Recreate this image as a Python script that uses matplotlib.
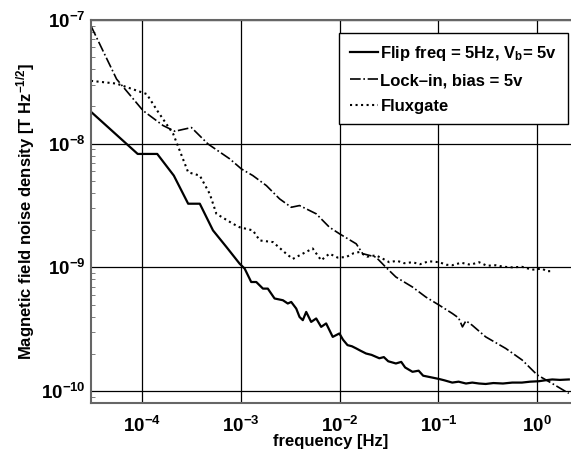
import numpy as np
import matplotlib as mpl
mpl.use('Agg')
import matplotlib.pyplot as plt
from matplotlib.ticker import NullFormatter

fam = 'Liberation Sans'
mpl.rcParams.update({'font.family': [fam, 'DejaVu Sans']})
mpl.rcParams.update({'font.weight': 'bold'})
mpl.rcParams.update({'mathtext.fontset': 'custom'})
mpl.rcParams.update({'mathtext.rm': fam + ':bold'})
mpl.rcParams.update({'mathtext.bf': fam + ':bold'})
mpl.rcParams.update({'mathtext.it': fam + ':bold'})
mpl.rcParams.update({'mathtext.default': 'bf'})

# flip-frequency magnetometer
flip_f = [3.03e-5, 9.0e-5, 1.42e-4, 2.09e-4, 2.92e-4, 3.83e-4, 5.21e-4, 7.13e-4, 9.7e-4, 1.09e-3,
          1.27e-3, 1.43e-3, 1.67e-3, 1.87e-3, 2.19e-3, 2.66e-3, 2.98e-3, 3.23e-3, 3.63e-3, 3.92e-3,
          4.23e-3, 4.58e-3, 5.14e-3, 5.78e-3, 6.49e-3, 7.29e-3, 8.5e-3, 9.93e-3, 1.08e-2, 1.2e-2,
          1.33e-2, 1.47e-2, 1.62e-2, 1.85e-2, 2.1e-2, 2.52e-2, 2.8e-2, 3.1e-2, 3.71e-2, 4.2e-2,
          4.6e-2, 5.46e-2, 6.3e-2, 7.0e-2, 8.05e-2, 0.102, 0.115, 0.138, 0.16, 0.19,
          0.22, 0.258, 0.301, 0.36, 0.45, 0.559, 0.7, 0.85, 1.04, 1.2,
          1.42, 1.7, 2.09]
flip_B = [1.81e-8, 8.26e-9, 8.26e-9, 5.52e-9, 3.27e-9, 3.27e-9, 1.99e-9, 1.46e-9, 1.07e-9, 9.77e-10,
          7.61e-10, 7.61e-10, 6.73e-10, 6.73e-10, 5.6e-10, 5.42e-10, 5.1e-10, 5.25e-10, 4.64e-10, 3.97e-10,
          3.74e-10, 4.36e-10, 3.62e-10, 3.86e-10, 3.30e-10, 3.52e-10, 2.74e-10, 2.92e-10, 2.6e-10, 2.35e-10,
          2.3e-10, 2.21e-10, 2.12e-10, 2.01e-10, 1.96e-10, 1.84e-10, 1.88e-10, 1.74e-10, 1.67e-10, 1.72e-10,
          1.55e-10, 1.43e-10, 1.46e-10, 1.33e-10, 1.30e-10, 1.25e-10, 1.22e-10, 1.17e-10, 1.19e-10, 1.15e-10,
          1.17e-10, 1.15e-10, 1.14e-10, 1.16e-10, 1.15e-10, 1.17e-10, 1.17e-10, 1.19e-10, 1.20e-10, 1.22e-10,
          1.24e-10, 1.23e-10, 1.24e-10]

# lock-in
lock_f = [3.03e-5, 5.5e-5, 1.02e-4, 1.63e-4, 2.14e-4, 3.15e-4, 4.64e-4, 7.69e-4, 1.01e-3, 1.32e-3,
          1.81e-3, 2.46e-3, 3.23e-3, 3.92e-3, 5.78e-3, 7.87e-3, 9.93e-3, 1.47e-2, 1.71e-2, 2.33e-2,
          2.94e-2, 3.71e-2, 5.46e-2, 7.46e-2, 0.102, 0.138, 0.16, 0.175, 0.19, 0.22,
          0.301, 0.48, 0.705, 1.0, 1.42, 2.09]
lock_B = [8.95e-8, 3.33e-8, 1.85e-8, 1.40e-8, 1.26e-8, 1.35e-8, 9.94e-9, 7.54e-9, 6.25e-9, 5.52e-9,
          4.58e-9, 3.58e-9, 3.06e-9, 3.16e-9, 2.71e-9, 2.11e-9, 1.87e-9, 1.55e-9, 1.29e-9, 1.21e-9,
          1.0e-9, 8.35e-10, 6.93e-10, 5.75e-10, 4.94e-10, 4.24e-10, 3.9e-10, 3.3e-10, 3.7e-10, 3.4e-10,
          2.74e-10, 2.21e-10, 1.78e-10, 1.35e-10, 1.15e-10, 9.57e-11]

# fluxgate
flux_f = [3.03e-5, 5.5e-5, 1.11e-4, 1.42e-4, 2.06e-4, 2.92e-4, 3.83e-4, 4.83e-4, 5.64e-4, 8.3e-4,
          9.7e-4, 1.32e-3, 1.55e-3, 2.11e-3, 2.87e-3, 3.35e-3, 3.92e-3, 5.33e-3, 6.49e-3, 7.87e-3,
          9.5e-3, 1.16e-2, 1.38e-2, 1.58e-2, 1.9e-2, 2.33e-2, 2.7e-2, 3.18e-2, 3.8e-2, 4.5e-2,
          5.46e-2, 6.5e-2, 8.0e-2, 0.102, 0.12, 0.138, 0.17, 0.21, 0.258, 0.31,
          0.38, 0.46, 0.559, 0.7, 0.891, 1.12, 1.25, 1.42]
flux_B = [3.22e-8, 3.06e-8, 2.52e-8, 1.85e-8, 1.20e-8, 5.87e-9, 5.52e-9, 3.93e-9, 2.71e-9, 2.25e-9,
          2.11e-9, 1.99e-9, 1.65e-9, 1.60e-9, 1.29e-9, 1.17e-9, 1.25e-9, 1.42e-9, 1.14e-9, 1.29e-9,
          1.2e-9, 1.21e-9, 1.30e-9, 1.33e-9, 1.22e-9, 1.25e-9, 1.18e-9, 1.10e-9, 1.13e-9, 1.08e-9,
          1.10e-9, 1.06e-9, 1.12e-9, 1.10e-9, 1.05e-9, 1.04e-9, 1.09e-9, 1.05e-9, 1.10e-9, 1.03e-9,
          1.04e-9, 1.01e-9, 1.0e-9, 1.01e-9, 9.57e-10, 9.77e-10, 9.3e-10, 9.33e-10]

xticks = [1e-4, 1e-3, 1e-2, 1e-1, 1e0]
yticks = [1e-10, 1e-9, 1e-8, 1e-7]

fig = plt.figure(figsize=(5.71, 4.54), dpi=100)
ax = fig.add_axes([91/571, 1-403/454, 1-91/571, (403-20)/454])

ax.loglog(flip_f, flip_B, '-', color='k', lw=1.6, label='Flip freq = 5Hz, V$_\\mathbf{b}$= 5v')
ax.loglog(lock_f, lock_B, '-.', color='k', lw=1.2, label='Lock\u2013in, bias = 5v')
ax.loglog(flux_f, flux_B, ':', color='k', lw=1.5, label='Fluxgate')

ax.set_xlim(3.03e-5, 2.2)
ax.set_ylim(8.0e-11, 1e-7)
ax.set_xticks(xticks)
ax.set_yticks(yticks)
ax.set_xticks([], minor=True)
ax.yaxis.set_minor_formatter(NullFormatter())
ax.grid(True, which='major', color='k', lw=0.9, ls='-')
ax.set_axisbelow(True)
for s in ['left', 'bottom', 'top']:
    ax.spines[s].set_color('#666666')
    ax.spines[s].set_linewidth(1.5)
ax.spines['right'].set_visible(False)
ax.tick_params(which='both', direction='in', labelsize=13.5)
ax.tick_params(which='major', length=0)
ax.tick_params(axis='x', which='major', pad=9)
ax.tick_params(axis='y', which='major', pad=4)
ax.tick_params(axis='y', which='minor', length=3, color='#666666')

ax.set_xlabel('frequency [Hz]', fontsize=12, fontweight='bold', labelpad=-1)
ax.set_ylabel('Magnetic field noise density [T Hz$^{\\mathbf{-1/2}}$]', fontsize=12, fontweight='bold', labelpad=3)

leg = ax.legend(loc='upper right', bbox_to_anchor=(0.994, 0.966), fontsize=12, frameon=True, fancybox=False,
                handlelength=1.7, handletextpad=0.15, borderpad=0.65, labelspacing=0.62, borderaxespad=0)
leg.get_frame().set_edgecolor('k')
leg.get_frame().set_linewidth(1.0)
leg.get_frame().set_alpha(1)

fig.savefig('out.png', dpi=100)
